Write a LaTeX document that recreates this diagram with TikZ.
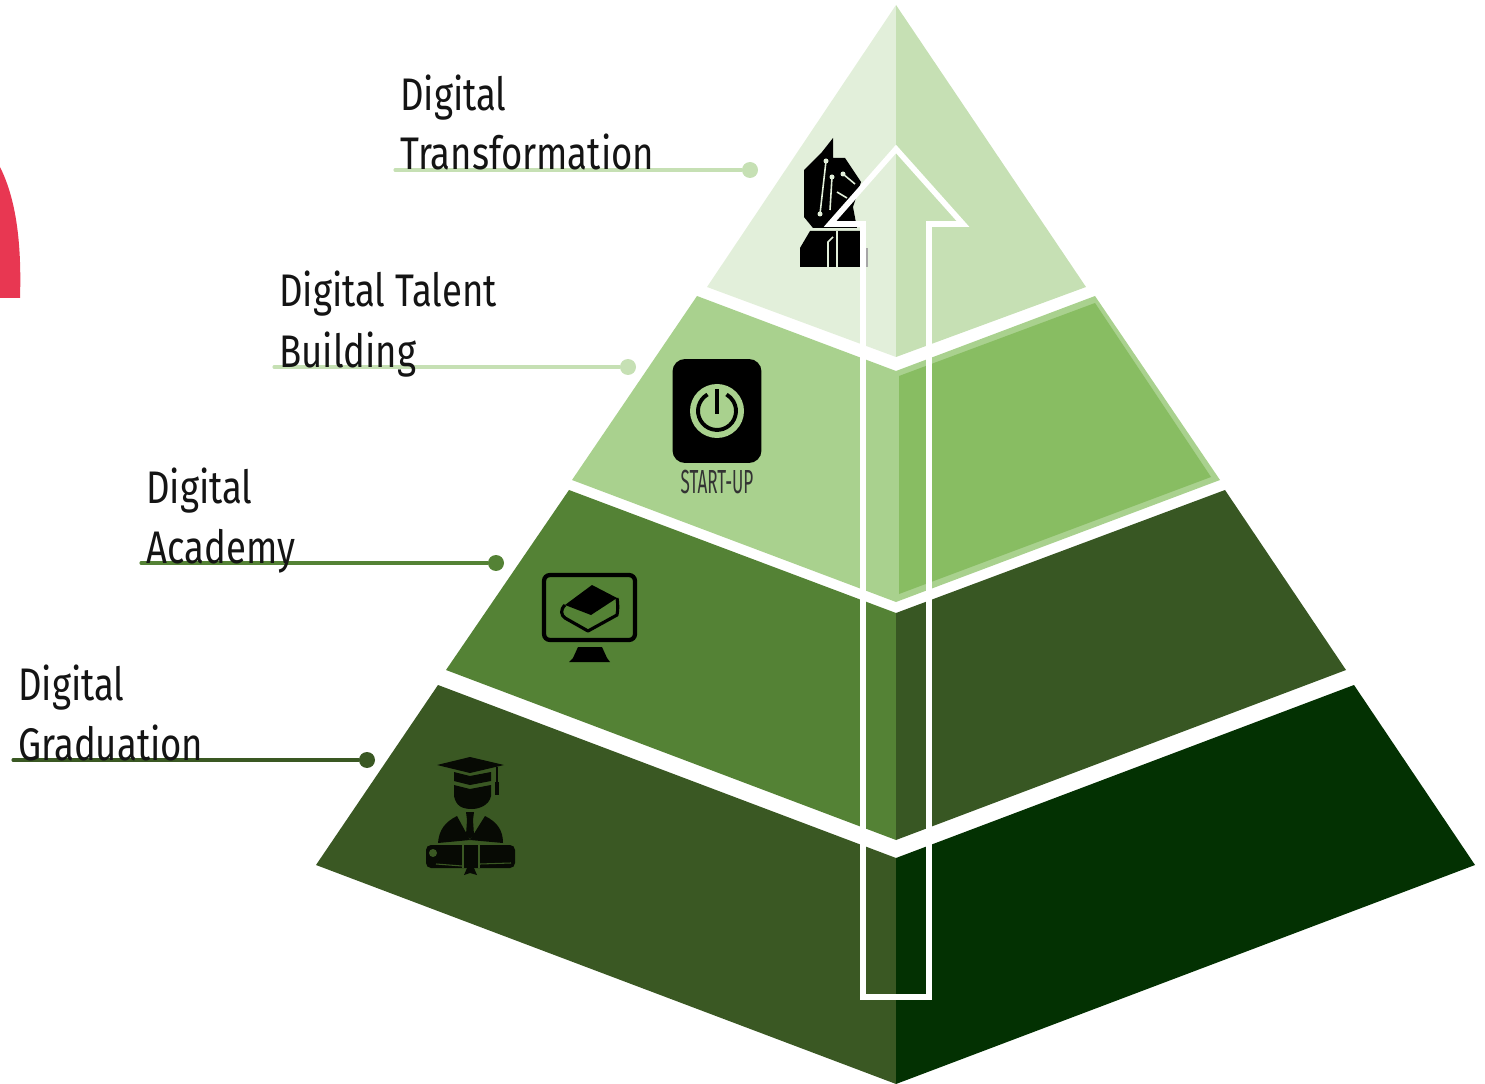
\documentclass[tikz,border=0pt]{standalone}
\usepackage{fontspec}
\setmainfont[FakeStretch=0.8]{Fira Sans}
\begin{document}
\begin{tikzpicture}[x=0.02cm,y=-0.02cm,
  leader/.style={line width=1.8pt,line cap=round},
  ldot/.style={circle,inner sep=0pt,minimum size=0.32cm},
  lab/.style={anchor=base west,inner sep=0pt,font=\fontsize{26}{26}\selectfont,text=black!92},
  arrowline/.style={draw=white,line width=3.2pt,line join=miter},
  circuit/.style={aL,line width=0.9pt},
  grad/.style={black!88!dL}]
\useasboundingbox (0,0) rectangle (1485,1084);
\definecolor{aL}{HTML}{E2EFDA}\definecolor{aR}{HTML}{C6E0B4}
\definecolor{bL}{HTML}{A9D18E}\definecolor{bR}{HTML}{88BD62}
\definecolor{cL}{HTML}{548235}\definecolor{cR}{HTML}{385723}
\definecolor{dL}{HTML}{3A5823}\definecolor{dR}{HTML}{033102}
\definecolor{redc}{HTML}{E83752}
% red arc
\fill[redc] (0,167) .. controls (14,195) and (22,235) .. (20,298) -- (0,298) -- cycle;
% tier 4
\fill[dL] (438,685) -- (896,858) -- (896,1084) -- (316,865) -- cycle;
\fill[dR] (896,858) -- (1354,685) -- (1475,865) -- (896,1084) -- cycle;
% tier 3
\fill[cL] (569,490) -- (896,613) -- (896,840) -- (446,670) -- cycle;
\fill[cR] (896,613) -- (1225,490) -- (1346,670) -- (896,840) -- cycle;
% tier 2
\fill[bL] (697,296) -- (896,371) -- (1095,296) -- (1220,480) -- (896,602) -- (572,480) -- cycle;
\fill[bR] (899,376) -- (1095,303) -- (1211,477) -- (899,594) -- cycle;
% tier 1
\fill[aL] (896,5) -- (896,357) -- (707,287) -- cycle;
\fill[aR] (896,5) -- (1086,287) -- (896,357) -- cycle;
% knight icon
\fill[black] (833,138) -- (822,152) -- (804,170) -- (804,217) -- (813,228) -- (857,228) -- (853,207) -- (861,182) -- (845,158) -- (833,158) -- cycle;
\draw[circuit] (826,161) -- (820,214);
\draw[circuit] (832,177) -- (830,210);
\draw[circuit] (843,174) -- (855,184);
\draw[circuit] (837,192) -- (847,198);
\fill[aL] (826,161) circle (2.5) (832,177) circle (2.5) (820,214) circle (2.5) (843,174) circle (2.5);
\fill[black] (810,231) -- (860,231) -- (862,267) -- (800,267) -- (800,248) -- cycle;
\draw[circuit] (837,231) -- (837,267);
\draw[circuit] (828,267) -- (828,242) -- (833,237);
\fill[black!35] (864,248) rectangle (868,267);
% start-up icon
\node[fill=black,rounded corners=0.25cm,minimum width=1.78cm,minimum height=2.08cm,inner sep=0pt] (power) at (717,411) {};
\fill[bL] (717,411) circle (27);
\draw[black,line width=2.2pt] (707.5,394.5) arc[start angle=120,end angle=420,radius=0.38cm];
\draw[black,line width=2.2pt] (717,389) -- (717,414);
\node[inner sep=0pt,font=\fontsize{19}{19}\selectfont,text=black!80,xscale=0.64] (su) at (717,482) {START-UP};
% book monitor icon
\draw[black,line width=2.4pt,rounded corners=0.12cm] (544,575) rectangle (635,640);
\fill[black] (578,647) -- (602,647) -- (607,658) -- (610,662) -- (569,662) -- (573,658) -- cycle;
\fill[black] (592,585) -- (617,598) -- (591,615) -- (565,605) -- cycle;
\draw[black,line width=1.8pt,line join=round] (565,605) .. controls (560,610) and (561,615) .. (565,618) -- (588,631) -- (617,615) .. controls (618,610) and (618,604) .. (617,598);
% graduate icon
\fill[grad] (470,757) -- (504,765) -- (470,773) -- (437,765) -- cycle;
\fill[grad] (495.5,767) rectangle (497.5,784);
\fill[grad] (495,782) rectangle (499,795);
\fill[grad] (454,772) -- (470,776) -- (491,772) -- (491,781) -- (470,785) -- (454,781) -- cycle;
\fill[grad] (454,785) -- (470,789) -- (491,785) -- (491,796) .. controls (489,806) and (478,809) .. (472,809) .. controls (462,809) and (456,806) .. (454,796) -- cycle;
\fill[grad] (457,816) -- (470,840) -- (438,843) .. controls (439,830) and (445,822) .. (457,816) -- cycle;
\fill[grad] (485,816) -- (470,840) -- (503,843) .. controls (503,830) and (497,822) .. (485,816) -- cycle;
\fill[grad] (466,812) -- (474,812) -- (473,820) -- (474,835) -- (470,839) -- (466,835) -- (467,820) -- cycle;
\fill[grad,rounded corners=0.1cm] (426,845) rectangle (515,868);
\draw[dL,line width=0.8pt] (463,845) -- (463,868) (479,845) -- (479,868);
\draw[dL,line width=0.6pt] (436,864) -- (462,866) (480,864) -- (511,863);
\fill[dL] (433,853) circle (4);
\fill[grad] (467,868) -- (474,868) -- (477,875) -- (470,873) -- (464,875) -- cycle;
% arrow
\draw[arrowline] (896,149) -- (963,224) -- (929,224) -- (929,997) -- (863,997) -- (863,224) -- (830,224) -- cycle;
% leaders
\coordinate (l1) at (395,170); \coordinate (l2) at (274,367);
\coordinate (l3) at (141,563); \coordinate (l4) at (13,760);
\node[ldot,fill=aR] (d1) at (750,170) {};
\node[ldot,fill=aR] (d2) at (628,367) {};
\node[ldot,fill=cL] (d3) at (496,563) {};
\node[ldot,fill=dL] (d4) at (367,760) {};
\draw[leader,aR] (l1) -- (d1);
\draw[leader,aR] (l2) -- (d2);
\draw[leader,cL] (l3) -- (d3);
\draw[leader,dL] (l4) -- (d4);
% labels
\node[lab] (t1a) at (400,111) {Digital};
\node[lab] (t1b) at (400,170) {Transformation};
\node[lab] (t2a) at (279,307) {Digital Talent};
\node[lab] (t2b) at (279,368) {Building};
\node[lab] (t3a) at (146,504) {Digital};
\node[lab] (t3b) at (146,563) {Academy};
\node[lab] (t4a) at (18,700) {Digital};
\node[lab] (t4b) at (18,760) {Graduation};
\end{tikzpicture}
\end{document}
